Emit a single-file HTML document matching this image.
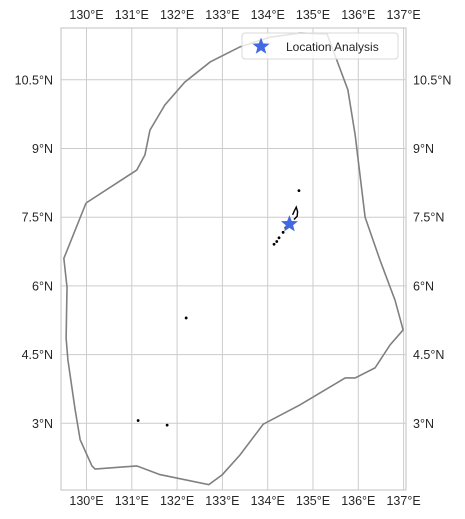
<!DOCTYPE html>
<html><head><meta charset="utf-8">
<style>
body{margin:0;background:#fff;}
svg{display:block;font-family:"Liberation Sans",Arial,sans-serif;}
</style></head>
<body>
<svg id="chart" width="465" height="519"></svg>
<script>
const lonTicks=[130,131,132,133,134,135,136,137];
const latTicks=[3,4.5,6,7.5,9,10.5];
const latLabels=["3°N","4.5°N","6°N","7.5°N","9°N","10.5°N"];
const boundaryLon=[129.99,131.11,131.29,131.40,131.73,132.17,132.73,133.39,134.05,134.71,135.31,135.77,135.93,136.15,136.48,136.81,136.99,136.70,136.37,135.93,135.71,134.71,133.90,133.39,133.0,132.70,131.62,131.11,130.19,130.12,129.86,129.75,129.59,129.55,129.57,129.50,129.99];
const boundaryLat=[7.81,8.53,8.86,9.40,9.95,10.45,10.89,11.22,11.43,11.52,11.50,10.28,9.30,7.50,6.56,5.69,5.04,4.71,4.21,3.99,3.99,3.40,2.98,2.31,1.88,1.66,1.88,2.07,2.00,2.07,2.64,3.29,4.38,4.86,5.97,6.60,7.81];
const islandLon=[134.14,134.20,134.25,134.34,134.40,134.69,132.20,131.14,131.78];
const islandLat=[6.91,6.97,7.05,7.17,7.27,8.08,5.30,3.06,2.96];
const reefLon=[134.58,134.65,134.66,134.63,134.58,134.55];
const reefLat=[7.45,7.52,7.62,7.72,7.62,7.55];
const siteLon=[134.48];
const siteLat=[7.35];

const L=61,R=406,T=28,B=490;
const x=lon=>86.5+(lon-130)*45.3;
const y=lat=>423.3-(lat-3)*45.8;
const NS="http://www.w3.org/2000/svg";
const svg=document.getElementById('chart');
function mk(tag,attrs,parent){const e=document.createElementNS(NS,tag);for(const k in attrs)e.setAttribute(k,attrs[k]);(parent||svg).appendChild(e);return e;}

const grid=mk('g',{});


lonTicks.forEach(v=>{
  const l=mk('line',{x1:x(v),x2:x(v),y1:T,y2:B,stroke:'#cccccc','stroke-width':1},grid);
  
  
  const t=mk('text',{x:x(v),y:19,'text-anchor':'middle','font-size':12.5,fill:'#262626'});
  t.textContent=v+'°E';
  
  
  const b=mk('text',{x:x(v),y:505,'text-anchor':'middle','font-size':12.5,fill:'#262626'});
  b.textContent=v+'°E';
  
  
});
latTicks.forEach((v,i)=>{
  const l=mk('line',{x1:L,x2:R,y1:y(v),y2:y(v),stroke:'#cccccc','stroke-width':1},grid);
  
  
  const a=mk('text',{x:53,y:y(v)+4.5,'text-anchor':'end','font-size':12.5,fill:'#262626'});
  a.textContent=latLabels[i];
  
  
  const b=mk('text',{x:413,y:y(v)+4.5,'text-anchor':'start','font-size':12.5,fill:'#262626'});
  b.textContent=latLabels[i];
  
  
});
const frame=mk('rect',{x:L,y:T,width:R-L,height:B-T,fill:'none',stroke:'#cccccc','stroke-width':1.2});



const bd=mk('polyline',{points:boundaryLon.map((v,i)=>x(v)+','+y(boundaryLat[i])).join(' '),fill:'none',stroke:'#808080','stroke-width':1.6});



const reef=mk('polyline',{points:reefLon.map((v,i)=>x(v)+','+y(reefLat[i])).join(' '),fill:'none',stroke:'#000','stroke-width':1.4});


islandLon.forEach((v,i)=>{
  const c=mk('circle',{cx:x(v),cy:y(islandLat[i]),r:1.4,fill:'#000'});
  
  
});

function starPts(cx,cy,ro,ri){const p=[];for(let k=0;k<10;k++){const r=k%2?ri:ro;const a=-Math.PI/2+k*Math.PI/5;p.push((cx+r*Math.cos(a)).toFixed(1)+','+(cy+r*Math.sin(a)).toFixed(1));}return p.join(' ');}
siteLon.forEach((v,i)=>{
  const s=mk('polygon',{points:starPts(x(v),y(siteLat[i]),9,3.8),fill:'#4169e1'});
  
  
});

const lg=mk('g',{});


mk('rect',{x:242,y:33,width:156,height:26,rx:3,fill:'rgba(255,255,255,0.8)',stroke:'#d8d8d8'},lg);
const ls=mk('polygon',{points:starPts(261,46.5,9,3.8),fill:'#4169e1'},lg);


const lt=mk('text',{x:286,y:51,'font-size':12,fill:'#262626'},lg);
lt.textContent='Location Analysis';


</script>
</body></html>
